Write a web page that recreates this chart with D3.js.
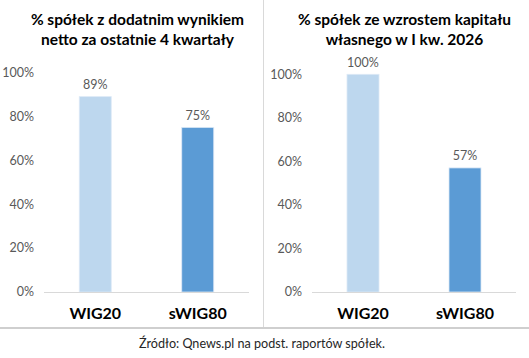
<!DOCTYPE html>
<html>
<head>
<meta charset="utf-8">
<script src="https://cdn.jsdelivr.net/npm/d3@7"></script>
<style>
  body { margin: 0; background: #fff; }
  svg { display: block; font-family: Lato, "Open Sans", sans-serif; }
</style>
</head>
<body>
<div id="chart"></div>
<script>
{ // limit scope...
const categories = ["WIG20", "sWIG80"];
const profitShare = [89, 75];   // % spółek z dodatnim wynikiem netto
const equityShare = [100, 57];  // % spółek ze wzrostem kapitału własnego
const yTicks = [0, 20, 40, 60, 80, 100];
const leftTitle = ["% spółek z dodatnim wynikiem", "netto za ostatnie 4 kwartały"];
const rightTitle = ["% spółek ze wzrostem kapitału", "własnego w I kw. 2026"];
const source = "Źródło: Qnews.pl na podst. raportów spółek.";

const width = 529,
      height = 358;
const colors = ["#bdd7ee", "#5b9bd5"];

const svg = d3.select("#chart").append("svg")
    .attr("width", width)
    .attr("height", height);

function drawPanel(values, title, opts) {
    const g = svg.append("g");

    const x = d3.scaleBand(categories, [opts.x0, opts.x1]);
    const y = d3.scaleLinear([0, 100], [292, opts.top]);
    const barW = 32;

    // Title.
    g.append("text")
        .attr("x", opts.titleX)
        .attr("text-anchor", "middle")
        .attr("font-weight", "bold")
        .attr("font-size", 15.5)
        .attr("fill", "#000")
        .selectAll("tspan")
        .data(title)
        .join("tspan")
            .attr("x", opts.titleX)
            .attr("y", (d, i) => 25 + i * 20)
            .text(d => d);

    // Y axis labels (no line).
    g.append("g")
        .selectAll("text")
        .data(yTicks)
        .join("text")
            .attr("x", opts.x0 - 10)
            .attr("y", d => y(d))
            .attr("dy", "0.35em")
            .attr("text-anchor", "end")
            .attr("font-size", 12.5)
            .attr("fill", "#595959")
            .text(d => d + "%");

    // Bars.
    g.append("g")
        .selectAll("rect")
        .data(values)
        .join("rect")
            .attr("x", (d, i) => x(categories[i]) + x.bandwidth() / 2 - barW / 2)
            .attr("y", d => y(d))
            .attr("width", barW)
            .attr("height", d => y(0) - y(d))
            .attr("fill", (d, i) => colors[i])
            .attr("stroke", "#dde9f6")
            .attr("stroke-width", 0.8);

    // Baseline.
    g.append("line")
        .attr("x1", opts.x0)
        .attr("x2", opts.x1)
        .attr("y1", y(0) + 0.5)
        .attr("y2", y(0) + 0.5)
        .attr("stroke", "#d9d9d9")
        .attr("stroke-width", 1.2);

    // Value labels.
    g.append("g")
        .selectAll("text")
        .data(values)
        .join("text")
            .attr("x", (d, i) => x(categories[i]) + x.bandwidth() / 2)
            .attr("y", d => y(d) - 12)
            .attr("dy", "0.35em")
            .attr("text-anchor", "middle")
            .attr("font-size", 12.5)
            .attr("fill", "#595959")
            .text(d => d + "%");

    // Category labels.
    g.append("g")
        .selectAll("text")
        .data(categories)
        .join("text")
            .attr("x", d => x(d) + x.bandwidth() / 2)
            .attr("y", 313)
            .attr("dy", "0.35em")
            .attr("text-anchor", "middle")
            .attr("font-size", 16)
            .attr("font-weight", "bold")
            .attr("fill", "#000")
            .text(d => d);
}

drawPanel(profitShare, leftTitle, {x0: 44, x1: 249, top: 72.5, titleX: 137.5});
drawPanel(equityShare, rightTitle, {x0: 312, x1: 516, top: 74.3, titleX: 404.5});

// Divider between panels and bottom rule.
svg.append("line")
    .attr("x1", 263.5).attr("x2", 263.5)
    .attr("y1", 0).attr("y2", 327)
    .attr("stroke", "#d9d9d9");

svg.append("line")
    .attr("x1", 0).attr("x2", width)
    .attr("y1", 328).attr("y2", 328)
    .attr("stroke", "#cfcfcf")
    .attr("stroke-width", 2);

svg.append("text")
    .attr("x", 262)
    .attr("y", 344)
    .attr("dy", "0.35em")
    .attr("text-anchor", "middle")
    .attr("font-size", 12.6)
    .attr("fill", "#262626")
    .text(source);
}
</script>
</body>
</html>
